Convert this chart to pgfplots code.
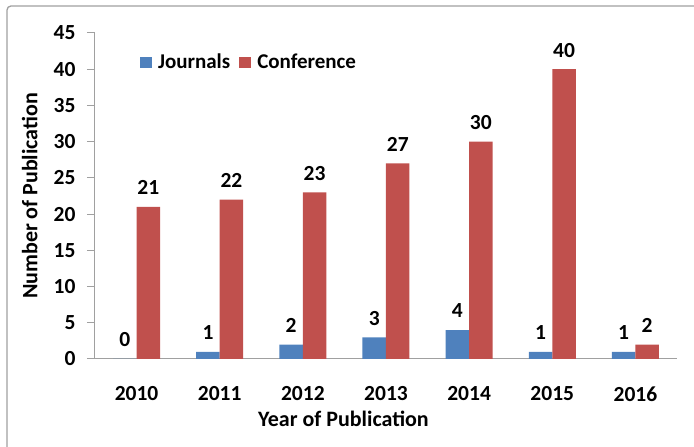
\documentclass[border=0pt]{standalone}
\usepackage{fontspec}
\setmainfont{Carlito}
\usepackage{pgfplots}
\pgfplotsset{compat=1.18}
\definecolor{jblue}{HTML}{4F81BD}
\definecolor{cred}{HTML}{C0504D}
\definecolor{axgray}{HTML}{A0A0A0}
\newcommand{\lf}{\fontsize{21.5}{25}\selectfont\bfseries}
\newcommand{\af}{\fontsize{22}{26}\selectfont\bfseries}
\newcommand{\gf}{\fontsize{21}{25}\selectfont\bfseries}
\begin{document}
\begin{tikzpicture}[x=1pt,y=1pt]
\useasboundingbox (0,0) rectangle (694,447);
\draw[axgray, line width=1.3pt, rounded corners=4pt] (7,-10) -- (7,441) -- (710,441);
\begin{axis}[
  at={(95pt,88pt)}, anchor=south west, scale only axis,
  width=582pt, height=326pt,
  ybar=0pt, bar width=23.5pt,
  xmin=-0.5, xmax=6.5, ymin=0, ymax=45,
  ytick={0,5,...,45}, xtick={0,1,2,3,4,5,6},
  xticklabels={2010,2011,2012,2013,2014,2015,2016},
  axis x line*=bottom, axis y line*=left,
  axis line style={axgray, line width=1pt},
  tick align=outside, major tick length=8pt,
  ytick style={axgray, line width=1pt},
  xtick style={draw=none},
  tick label style={font=\lf},
  /pgf/number format/assume math mode=true,
  yticklabel style={xshift=-8pt},
  xticklabel style={yshift=-16pt},
  xlabel={Year of Publication},
  ylabel={Number of Publication},
  every axis x label/.style={at={(axis description cs:0.427,-0.184)}, anchor=center, font=\af},
  every axis y label/.style={at={(axis description cs:-0.112,0.5)}, rotate=90, anchor=center, font=\af},
  legend style={at={(axis description cs:0.072,0.911)}, anchor=west, draw=none, fill=none,
    legend columns=-1, font=\gf,
    /tikz/every even column/.append style={column sep=7pt},
    /tikz/every odd column/.append style={column sep=4pt}},
  nodes near coords,
  every node near coord/.append style={font=\lf, anchor=center, yshift=19pt, black},
]
\addplot[fill=jblue, draw=none, legend image code/.code={\fill[jblue] (0pt,-5.5pt) rectangle (12pt,5.5pt);}]
  coordinates {(0,0) (1,1) (2,2) (3,3) (4,4) (5,1) (6,1)};
\addplot[fill=cred, draw=none, legend image code/.code={\fill[cred] (0pt,-5.5pt) rectangle (12pt,5.5pt);}]
  coordinates {(0,21) (1,22) (2,23) (3,27) (4,30) (5,40) (6,2)};
\legend{Journals,Conference}
\end{axis}
\end{tikzpicture}
\end{document}
